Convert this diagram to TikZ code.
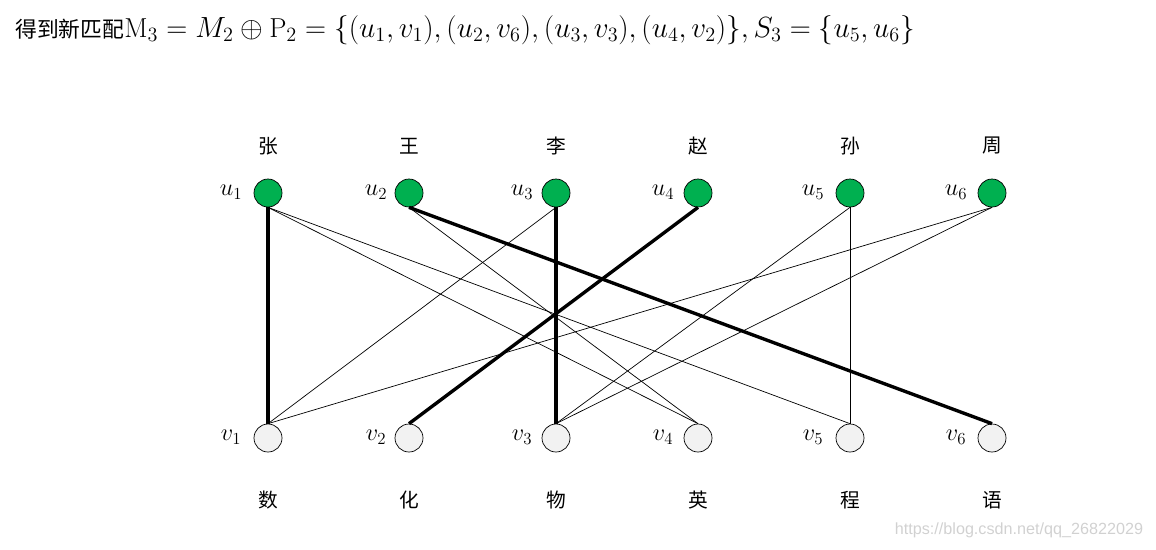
\documentclass[tikz,border=0pt]{standalone}
\usepackage{amsmath}
\usepackage{fontspec}
\newfontfamily\cjk{Noto Sans CJK SC}
\newfontfamily\wmfont{Liberation Sans}
\definecolor{ugreen}{RGB}{0,176,80}
\definecolor{vgrey}{RGB}{242,242,242}

\begin{document}
\begin{tikzpicture}[x=0.025cm,y=-0.025cm,
  unode/.style={circle,draw=black,line width=0.5pt,fill=ugreen,minimum size=0.7cm,inner sep=0pt},
  vnode/.style={circle,draw=black,line width=0.5pt,fill=vgrey,minimum size=0.7cm,inner sep=0pt},
  idx/.style={font=\fontsize{17.5}{20}\selectfont},
  cname/.style={font=\cjk\fontsize{14}{16}\selectfont},
  edge/.style={line width=0.5pt},
  matched/.style={line width=2.4pt}]
\useasboundingbox (0,0) rectangle (1156,549);

\node[anchor=west,inner sep=0pt,font=\fontsize{19.5}{22}\selectfont] (title) at (15,30)
  {{\cjk\fontsize{15.5}{20}\selectfont 得到新匹配}$\mathrm{M}_3=M_2\oplus\mathrm{P}_2=\{(u_1,v_1),(u_2,v_6),(u_3,v_3),(u_4,v_2)\},S_3=\{u_5,u_6\}$};

\node[cname] (n1) at (268,146) {张};
\node[cname] (n2) at (409,146) {王};
\node[cname] (n3) at (556,146) {李};
\node[cname] (n4) at (698,146) {赵};
\node[cname] (n5) at (850,146) {孙};
\node[cname] (n6) at (992,146) {周};

\node[unode] (u1) at (268,193) {};
\node[unode] (u2) at (409,193) {};
\node[unode] (u3) at (556,193) {};
\node[unode] (u4) at (698,193) {};
\node[unode] (u5) at (850,193) {};
\node[unode] (u6) at (992,193) {};

\node[idx] (lu1) at (231,192) {$u_1$};
\node[idx] (lu2) at (376,192) {$u_2$};
\node[idx] (lu3) at (522,192) {$u_3$};
\node[idx] (lu4) at (663,192) {$u_4$};
\node[idx] (lu5) at (813,192) {$u_5$};
\node[idx] (lu6) at (956,192) {$u_6$};

\node[vnode] (v1) at (268,438) {};
\node[vnode] (v2) at (409,438) {};
\node[vnode] (v3) at (556,438) {};
\node[vnode] (v4) at (698,438) {};
\node[vnode] (v5) at (850,438) {};
\node[vnode] (v6) at (992,438) {};

\node[idx] (lv1) at (231,437) {$v_1$};
\node[idx] (lv2) at (376,437) {$v_2$};
\node[idx] (lv3) at (522,437) {$v_3$};
\node[idx] (lv4) at (663,437) {$v_4$};
\node[idx] (lv5) at (813,437) {$v_5$};
\node[idx] (lv6) at (956,437) {$v_6$};

\node[cname] (m1) at (268,500) {数};
\node[cname] (m2) at (409,500) {化};
\node[cname] (m3) at (556,500) {物};
\node[cname] (m4) at (698,500) {英};
\node[cname] (m5) at (850,500) {程};
\node[cname] (m6) at (992,500) {语};

\draw[edge] (u1.south) -- (v4.north);
\draw[edge] (u1.south) -- (v5.north);
\draw[edge] (u2.south) -- (v4.north);
\draw[edge] (u3.south) -- (v1.north);
\draw[edge] (u5.south) -- (v3.north);
\draw[edge] (u5.south) -- (v5.north);
\draw[edge] (u6.south) -- (v1.north);
\draw[edge] (u6.south) -- (v3.north);

\draw[matched] (u1.south) -- (v1.north);
\draw[matched] (u2.south) -- (v6.north);
\draw[matched] (u3.south) -- (v3.north);
\draw[matched] (u4.south) -- (v2.north);

\node[anchor=east,font=\wmfont\fontsize{11.5}{14}\selectfont,text=black!18] (wm) at (1148,530) {https://blog.csdn.net/qq\_26822029};
\end{tikzpicture}
\end{document}
